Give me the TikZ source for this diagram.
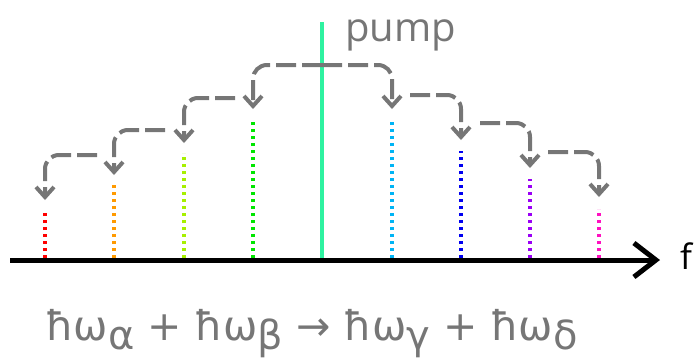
\documentclass[tikz,border=0pt]{standalone}
\usepackage{fontspec}
\setmainfont{Open Sans}
\newfontfamily\eqfont{DejaVu Sans}
\usetikzlibrary{arrows.meta}
\definecolor{txtgray}{HTML}{767676}
\definecolor{pumpc}{HTML}{2EF2A0}
\definecolor{cA}{HTML}{FF0000}
\definecolor{cB}{HTML}{FF9A00}
\definecolor{cC}{HTML}{A6F000}
\definecolor{cD}{HTML}{00E600}
\definecolor{cE}{HTML}{00B4F5}
\definecolor{cF}{HTML}{0000F0}
\definecolor{cG}{HTML}{9A00F5}
\definecolor{cH}{HTML}{FF10C0}
\newcommand{\sbx}[1]{\raisebox{-9pt}{\fontsize{40}{42}\selectfont #1}}
\tikzset{
  mode/.style={line width=3.5pt, dash pattern=on 3.2pt off 3.8pt},
  hop/.style={draw=txtgray, line width=4pt, dash pattern=on 20pt off 6pt,
    rounded corners=14pt, -{Straight Barb[length=10pt,width=18pt,line width=4pt]}},
  lbl/.style={inner sep=0pt, text=txtgray}
}
\begin{document}
\begin{tikzpicture}[x=1pt,y=-1pt]
\useasboundingbox (0,0) rectangle (697,360);
% axis
\coordinate (ax0) at (10,260);
\coordinate (ax1) at (660,260);
% pump
\coordinate (pb) at (322,260);
\coordinate (pt) at (322,22);
\draw[pumpc, line width=4pt] (pb) -- (pt);
% modes
\foreach \n/\x/\t/\c in {a/45/210/cA, b/114/185/cB, c/184/153/cC, d/253/122/cD,
                        e/392/122/cE, f/461/151/cF, g/530/179/cG, h/599/209/cH}{
  \coordinate (\n0) at (\x,258);
  \coordinate (\n1) at (\x,\t);
  \draw[mode, \c] (\n0) -- (\n1);
}
\draw[line width=5pt, -{Straight Barb[length=22pt,width=34pt,line width=5pt]}] (ax0) -- (ax1);
% hops
\coordinate (top) at (322,65);
\coordinate (sL2) at (235,98);  \coordinate (sL3) at (165,130); \coordinate (sL4) at (97,155);
\coordinate (sR2) at (410,95);  \coordinate (sR3) at (480,123); \coordinate (sR4) at (548,152);
\coordinate (tD) at (253,109); \coordinate (tC) at (184,143); \coordinate (tB) at (114,175); \coordinate (tA) at (45,200);
\coordinate (tE) at (392,109); \coordinate (tF) at (461,140); \coordinate (tG) at (530,168); \coordinate (tH) at (599,197);
\draw[hop] (top) -| (tD);
\draw[hop] (top) -| (tE);
\draw[hop] (sL2) -| (tC);
\draw[hop] (sL3) -| (tB);
\draw[hop] (sL4) -| (tA);
\draw[hop] (sR2) -| (tF);
\draw[hop] (sR3) -| (tG);
\draw[hop] (sR4) -| (tH);
% labels
\node[lbl, anchor=base west, font=\fontsize{40}{42}\selectfont] (pumplbl) at (345,41) {pump};
\node[inner sep=0pt, anchor=base west, font=\fontsize{35}{37}\selectfont] (flbl) at (680,269) {f};
\node[lbl, anchor=base west, font=\eqfont\fontsize{41}{43}\selectfont] (eq) at (45,340)
  {ħω\sbx{α} + ħω\sbx{β} → ħω\sbx{γ} + ħω\sbx{δ}};
\end{tikzpicture}
\end{document}
